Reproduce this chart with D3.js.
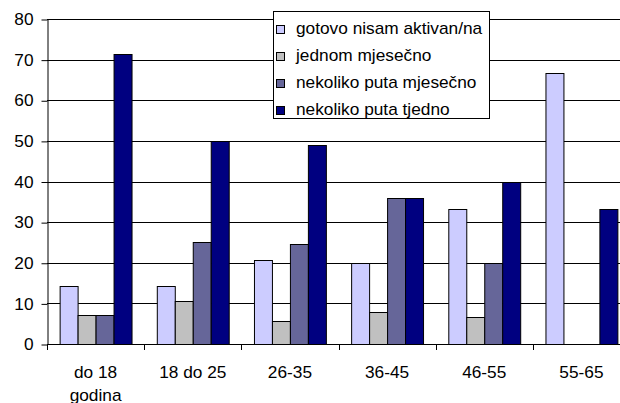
<!DOCTYPE html>
<html>
<head>
<meta charset="utf-8">
<script src="https://cdn.jsdelivr.net/npm/d3@7"></script>
<style>
  body { margin: 0; background: #fff; }
  text { font-family: "Liberation Sans", Arial, sans-serif; font-size: 16px; fill: #000; }
</style>
</head>
<body>
<div id="chart"></div>
<script>
// age groups on the x axis ("\n" = line break in the label)
const categories = ["do 18\ngodina", "18 do 25", "26-35", "36-45", "46-55", "55-65"];

const seriesNames = [
  "gotovo nisam aktivan/na",
  "jednom mjesečno",
  "nekoliko puta mjesečno",
  "nekoliko puta tjedno",
];

// percent per age group, one array per series
const gotovoNisam = [14.3, 14.3, 20.8, 20, 33.3, 66.7];
const jednomMjesecno = [7.1, 10.7, 5.7, 8, 6.7, 0];
const nekolikoMjesecno = [7.1, 25, 24.5, 36, 20, 0];
const nekolikoTjedno = [71.4, 50, 49.1, 36, 40, 33.3];

const yTicks = [0, 10, 20, 30, 40, 50, 60, 70, 80];

const colors = ["#CCCCFF", "#C0C0C0", "#666699", "#000080"];

const series = [gotovoNisam, jednomMjesecno, nekolikoMjesecno, nekolikoTjedno];

const width = 620;
const height = 403;
const plotLeft = 47;
const plotRight = 630; // plot runs past the window edge
const plotTop = 19;
const plotBottom = 344;
const sx = 1.08; // text in the reference is a little stretched sideways

const svg = d3
  .select("#chart")
  .append("svg")
  .attr("width", width)
  .attr("height", height);

const x0 = d3
  .scaleBand()
  .domain(categories)
  .range([plotLeft, plotRight])
  .paddingInner(0.26)
  .paddingOuter(0.13);

const x1 = d3
  .scaleBand()
  .domain(d3.range(series.length))
  .range([0, x0.bandwidth()]);

const y = d3.scaleLinear().domain([0, 80]).range([plotBottom, plotTop]);

// ---------
// GRIDLINES
// ---------
svg
  .append("g")
  .selectAll("line")
  .data(yTicks.filter((t) => t > 0))
  .join("line")
  .attr("x1", plotLeft)
  .attr("x2", width)
  .attr("y1", (d) => Math.round(y(d)) + 0.5)
  .attr("y2", (d) => Math.round(y(d)) + 0.5)
  .attr("stroke", "#000")
  .attr("stroke-width", 1);

// ----
// BARS
// ----
const groups = svg
  .append("g")
  .selectAll("g")
  .data(categories)
  .join("g")
  .attr("transform", (d) => `translate(${x0(d)},0)`);

groups
  .selectAll("rect")
  .data((d, i) =>
    series.map((s, k) => ({ k: k, v: s[i] })).filter((b) => b.v > 0)
  )
  .join("rect")
  .attr("x", (d) => x1(d.k) + 0.5)
  .attr("y", (d) => Math.round(y(d.v)) + 0.5)
  .attr("width", x1.bandwidth())
  .attr("height", (d) => Math.round(y(0)) - Math.round(y(d.v)))
  .attr("fill", (d) => colors[d.k])
  .attr("stroke", "#000")
  .attr("stroke-width", 1);

// ------
// Y AXIS
// ------
const yAxis = svg
  .append("g")
  .attr("transform", `translate(${plotLeft + 0.5},0.5)`)
  .call(d3.axisLeft(y).tickValues(yTicks).tickSize(6).tickSizeOuter(0));

yAxis.select(".domain").attr("stroke", "#000");
yAxis.selectAll(".tick line").attr("stroke", "#000");
yAxis
  .selectAll(".tick text")
  .attr("x", 0)
  .attr("transform", `translate(-14,0) scale(${sx},1)`)
  .style("font-size", "16px")
  .style("font-family", "Liberation Sans, Arial, sans-serif");

// ------
// X AXIS
// ------
svg
  .append("line")
  .attr("x1", plotLeft)
  .attr("x2", width)
  .attr("y1", plotBottom + 0.5)
  .attr("y2", plotBottom + 0.5)
  .attr("stroke", "#000");

svg
  .append("g")
  .selectAll("line")
  .data(d3.range(categories.length + 1))
  .join("line")
  .attr("x1", (i) => Math.round(plotLeft + i * x0.step()) + 0.5)
  .attr("x2", (i) => Math.round(plotLeft + i * x0.step()) + 0.5)
  .attr("y1", plotBottom)
  .attr("y2", plotBottom + 6)
  .attr("stroke", "#000");

const xLabels = svg
  .append("g")
  .selectAll("text")
  .data(categories)
  .join("text")
  .attr("text-anchor", "middle")
  .attr(
    "transform",
    (d) => `translate(${x0(d) + x0.bandwidth() / 2},378) scale(${sx},1)`
  );

xLabels
  .selectAll("tspan")
  .data((d) => d.split("\n"))
  .join("tspan")
  .attr("x", 0)
  .attr("y", (d, i) => i * 23)
  .text((d) => d);

// ------
// LEGEND
// ------
const legend = svg.append("g");

legend
  .append("rect")
  .attr("x", 273.5)
  .attr("y", 11.5)
  .attr("width", 216)
  .attr("height", 107)
  .attr("fill", "#fff")
  .attr("stroke", "#000");

const items = legend
  .selectAll("g")
  .data(seriesNames)
  .join("g")
  .attr("transform", (d, i) => `translate(0,${30 + i * 27})`);

items
  .append("rect")
  .attr("x", 276.5)
  .attr("y", -4.5)
  .attr("width", 8)
  .attr("height", 8)
  .attr("fill", (d, i) => colors[i])
  .attr("stroke", "#000");

items
  .append("text")
  .attr("transform", `translate(296,4) scale(${sx},1)`)
  .text((d) => d);
</script>
</body>
</html>
